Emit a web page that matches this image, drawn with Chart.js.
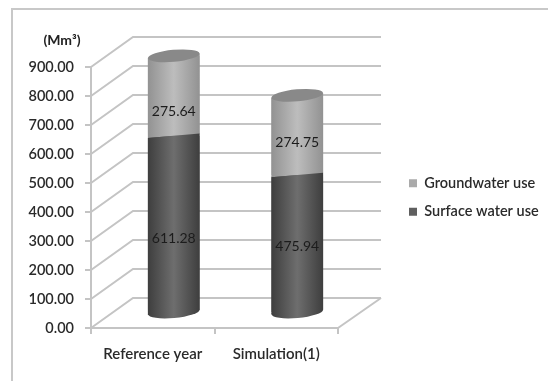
<!DOCTYPE html>
<html>
<head>
<meta charset="utf-8">
<title>Water use</title>
<script src="https://cdn.jsdelivr.net/npm/chart.js@4/dist/chart.umd.min.js"></script>
<style>
    html, body { margin: 0; padding: 0; background: #fff; }
    #wrap { position: relative; width: 548px; height: 381px; }
</style>
</head>
<body>
<div id="wrap"><canvas id="waterChart"></canvas></div>
<script>
const categories = ['Reference year', 'Simulation(1)'];
const surfaceWater = [611.28, 475.94];
const groundwater = [275.64, 274.75];
const axisMax = 900;
const axisStep = 100;
const unitLabel = '(Mm³)';

// Depth of the fake 3D box, the columns stand halfway into it
const DEPTH_X = 42;
const DEPTH_Y = 30;
const RY = 6;
const TILT = -0.09;
const BAR_SHARE = 52 / 124;
const FONT = 'Lato, "Open Sans", sans-serif';
const GRID = '#c4c4c4';
const TEXT = '#2a2a2a';

// Hand placed value labels, [x, y] away from the column segment centre
const labelNudge = [[[0, 15], [0, 16]], [[0, 3], [0, 7]]];

function cylinderFill(chart, index, edge, mid) {
    const x = chart.scales.x;
    if (!chart.chartArea || !x) return edge;
    const center = x.getPixelForTick(index);
    const half = x.width / categories.length * BAR_SHARE / 2;
    const g = chart.ctx.createLinearGradient(center - half, 0, center + half, 0);
    g.addColorStop(0, edge);
    g.addColorStop(0.5, mid);
    g.addColorStop(1, edge);
    return g;
}

// Body of a segment with both ends following the tilted ellipse
function sidePath(ctx, bar) {
    const half = bar.width / 2;
    const drop = half * Math.sin(TILT);
    ctx.moveTo(bar.x - half, bar.y - drop);
    ctx.lineTo(bar.x + half, bar.y + drop);
    ctx.lineTo(bar.x + half, bar.base + drop);
    ctx.lineTo(bar.x - half, bar.base - drop);
    ctx.closePath();
}

const boxPlugin = {
    id: 'box3d',
    beforeDraw(chart) {
        const { ctx, scales: { y }, chartArea: area } = chart;
        ctx.save();

        // chart frame, runs off the page at right and bottom
        ctx.strokeStyle = '#c8c8c8';
        ctx.lineWidth = 2;
        ctx.strokeRect(12, 9, 600, 500);

        // back wall lines and the slanted side wall
        ctx.strokeStyle = GRID;
        ctx.lineWidth = 2;
        y.ticks.forEach(t => {
            const py = y.getPixelForValue(t.value);
            ctx.beginPath();
            ctx.moveTo(area.left, py);
            ctx.lineTo(area.left + DEPTH_X, py - DEPTH_Y);
            ctx.lineTo(area.right + DEPTH_X + 1, py - DEPTH_Y);
            ctx.stroke();
        });

        // floor edge on the right
        ctx.beginPath();
        ctx.moveTo(area.right, area.bottom);
        ctx.lineTo(area.right + DEPTH_X + 1, area.bottom - DEPTH_Y);
        ctx.stroke();

        // unit above the axis
        ctx.fillStyle = '#222';
        ctx.font = 'bold 14px ' + FONT;
        ctx.textAlign = 'center';
        ctx.textBaseline = 'middle';
        ctx.fillText(unitLabel, 62, y.getPixelForValue(axisMax) - 27);
        ctx.restore();
    },
    beforeDatasetDraw(chart, args) {
        const { ctx } = chart;
        const ds = chart.data.datasets[args.index];
        ctx.save();
        ctx.translate(DEPTH_X / 2, -DEPTH_Y / 2);

        args.meta.data.forEach((bar, i) => {
            ctx.fillStyle = cylinderFill(chart, i, ds.edgeColor, ds.midColor);
            // rounded foot, then the slanted ends the flat bar does not reach
            ctx.beginPath();
            ctx.ellipse(bar.x, bar.base, bar.width / 2, RY, TILT, 0, Math.PI * 2);
            ctx.fill();
            ctx.beginPath();
            sidePath(ctx, bar);
            ctx.fill();
        });

        // keep the square bar corners from poking past the ends
        ctx.beginPath();
        args.meta.data.forEach(bar => sidePath(ctx, bar));
        ctx.clip();
    },
    afterDatasetDraw(chart, args) {
        const { ctx } = chart;
        ctx.restore();

        // top cap only on the upper series
        if (args.index === 1) {
            ctx.save();
            ctx.translate(DEPTH_X / 2, -DEPTH_Y / 2);
            args.meta.data.forEach(bar => {
                ctx.beginPath();
                ctx.ellipse(bar.x, bar.y, bar.width / 2, RY, TILT, 0, Math.PI * 2);
                ctx.fillStyle = '#898989';
                ctx.fill();
            });
            ctx.restore();
        }
    },
    afterDatasetsDraw(chart) {
        const { ctx } = chart;
        ctx.save();
        ctx.fillStyle = '#1c1c1c';
        ctx.font = '14px ' + FONT;
        ctx.textAlign = 'center';
        ctx.textBaseline = 'middle';
        chart.data.datasets.forEach((ds, d) => {
            chart.getDatasetMeta(d).data.forEach((bar, i) => {
                const nudge = labelNudge[i][d];
                const cx = bar.x + DEPTH_X / 2 + nudge[0];
                const cy = (bar.y + bar.base) / 2 - DEPTH_Y / 2 + nudge[1];
                ctx.fillText(ds.data[i].toFixed(2), cx, cy);
            });
        });
        ctx.restore();
    }
};

new Chart(document.getElementById('waterChart'), {
    type: 'bar',
    data: {
        labels: categories,
        datasets: [
            {
                label: 'Surface water use',
                data: surfaceWater,
                edgeColor: '#3e3e3e',
                midColor: '#6e6e6e',
                backgroundColor: c => cylinderFill(c.chart, c.dataIndex, '#3e3e3e', '#6e6e6e'),
                clip: false
            },
            {
                label: 'Groundwater use',
                data: groundwater,
                edgeColor: '#929292',
                midColor: '#bdbdbd',
                backgroundColor: c => cylinderFill(c.chart, c.dataIndex, '#929292', '#bdbdbd'),
                clip: false
            }
        ]
    },
    plugins: [boxPlugin],
    options: {
        responsive: true,
        maintainAspectRatio: false,
        animation: false,
        events: [],
        layout: { padding: { top: 67, right: 3, bottom: 7, left: 0 } },
        barPercentage: 1,
        categoryPercentage: BAR_SHARE,
        plugins: {
            tooltip: { enabled: false },
            legend: {
                position: 'right',
                fullSize: false,
                reverse: true,
                maxWidth: 150,
                labels: {
                    boxWidth: 8,
                    boxHeight: 8,
                    padding: 14,
                    color: TEXT,
                    font: { family: FONT, size: 14.5, weight: '600' },
                    generateLabels(chart) {
                        return chart.data.datasets.map((ds, i) => ({
                            text: ds.label,
                            fillStyle: i === 0 ? '#5f5f5f' : '#aaaaaa',
                            strokeStyle: 'transparent',
                            lineWidth: 0,
                            fontColor: TEXT,
                            datasetIndex: i
                        }));
                    }
                }
            }
        },
        scales: {
            x: {
                stacked: true,
                border: { color: GRID, width: 2 },
                grid: { drawOnChartArea: false, tickLength: 6, color: GRID, lineWidth: 2 },
                ticks: { padding: 11, color: TEXT, font: { family: FONT, size: 15, weight: '600' } }
            },
            y: {
                stacked: true,
                min: 0,
                max: axisMax,
                afterFit(scale) { scale.width = 91; },
                border: { color: GRID, width: 2 },
                grid: { drawOnChartArea: false, tickLength: 6, color: GRID, lineWidth: 2 },
                ticks: {
                    stepSize: axisStep,
                    padding: 11,
                    color: TEXT,
                    font: { family: FONT, size: 14.5, weight: '600' },
                    callback: v => v.toFixed(2)
                }
            },
            // empty column between the floor and the legend
            gap: {
                position: 'right',
                display: true,
                afterFit(scale) { scale.width = 57; },
                border: { display: false },
                grid: { display: false },
                ticks: { display: false }
            }
        }
    }
});
</script>
</body>
</html>
